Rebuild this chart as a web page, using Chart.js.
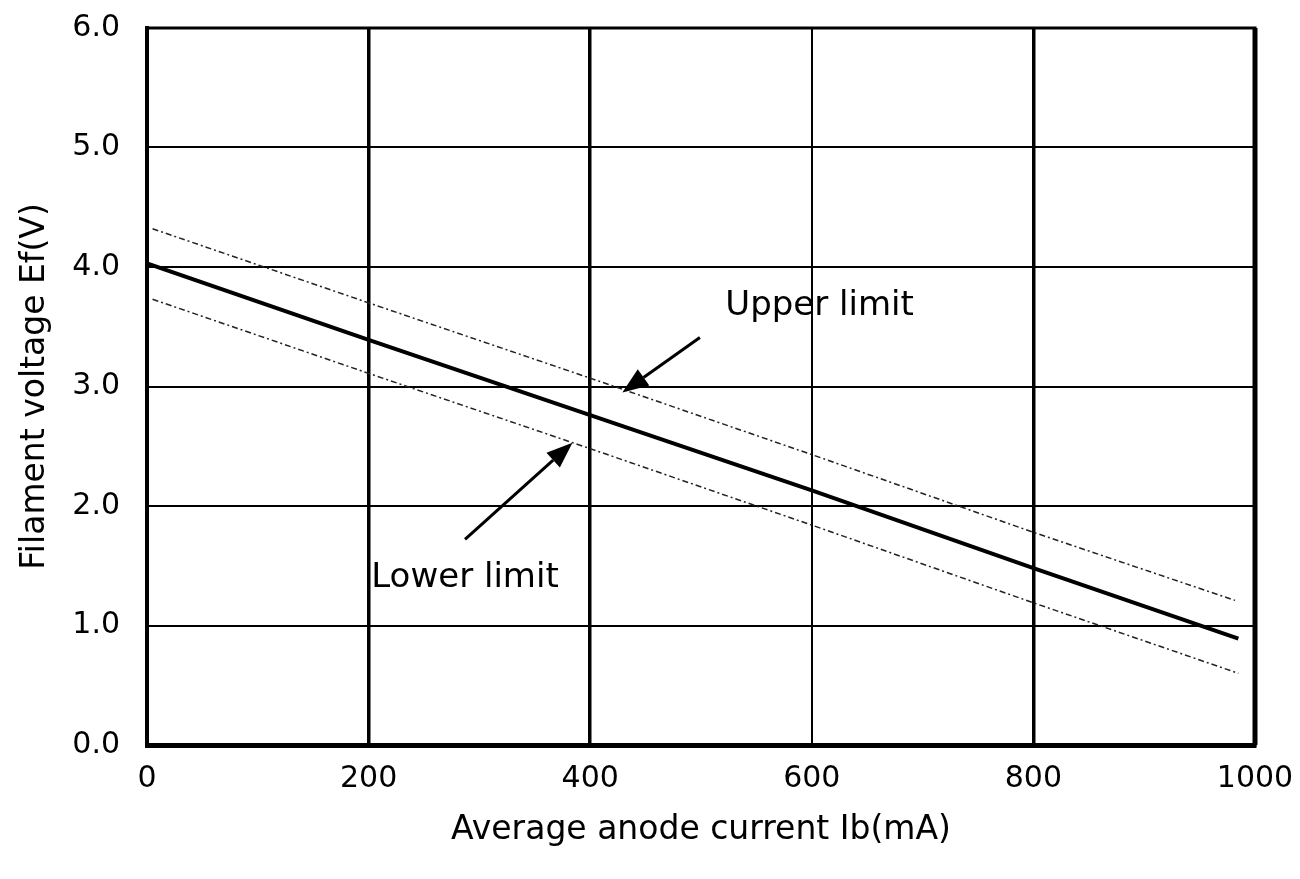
<!DOCTYPE html>
<html>
<head>
<meta charset="utf-8">
<script src="https://cdn.jsdelivr.net/npm/chart.js@4/dist/chart.umd.min.js"></script>
<style>
  html, body { margin: 0; padding: 0; background: #fff; overflow: hidden; }
  canvas { display: block; }
</style>
</head>
<body>
<canvas id="cnv" width="1300" height="879"></canvas>
<script>
// values (x = mA, y = V)
let currentMain = [0, 200, 400, 600, 800, 985]
let voltMain = [4.03, 3.39, 2.76, 2.13, 1.48, 0.89]
let currentUpper = [5, 200, 400, 600, 800, 982]
let voltUpper = [4.32, 3.70, 3.07, 2.43, 1.78, 1.21]
let currentLower = [5, 200, 400, 600, 800, 985]
let voltLower = [3.73, 3.11, 2.48, 1.84, 1.19, 0.60]

let xTicks = [0, 200, 400, 600, 800, 1000]
let yTicks = [0, 1, 2, 3, 4, 5, 6]

// labels with arrows, in data units: [text, textX, textY, tailX, tailY, headX, headY]
let notes = [
  ['Upper limit', 607, 3.67, 499, 3.41, 429, 2.95],
  ['Lower limit', 287, 1.40, 287, 1.72, 384, 2.53],
]

const FONT = "'DejaVu Sans', sans-serif"

function toPts(xs, ys) {
  return xs.map((x, i) => ({ x: x, y: ys[i] }))
}

const frame = {
  id: 'frame',
  afterDraw(chart) {
    let { ctx, chartArea: a } = chart
    ctx.save()
    ctx.strokeStyle = '#000'
    ctx.lineWidth = 3
    ctx.strokeRect(a.left, a.top, a.right - a.left, a.bottom - a.top)
    // heavier right edge as in the print
    ctx.lineWidth = 5
    ctx.beginPath()
    ctx.moveTo(a.right, a.top)
    ctx.lineTo(a.right, a.bottom)
    ctx.stroke()
    ctx.restore()
  }
}

const notesPlugin = {
  id: 'notes',
  afterDatasetsDraw(chart) {
    let { ctx, scales: { x, y } } = chart
    ctx.save()
    notes.forEach((n) => {
      ctx.fillStyle = '#000'
      ctx.font = '34px ' + FONT
      ctx.textAlign = 'center'
      ctx.textBaseline = 'middle'
      ctx.fillText(n[0], x.getPixelForValue(n[1]), y.getPixelForValue(n[2]))

      let x1 = x.getPixelForValue(n[3]), y1 = y.getPixelForValue(n[4])
      let x2 = x.getPixelForValue(n[5]), y2 = y.getPixelForValue(n[6])
      let ang = Math.atan2(y2 - y1, x2 - x1)
      let len = 26, w = 10
      let bx = x2 - len * Math.cos(ang), by = y2 - len * Math.sin(ang)
      ctx.strokeStyle = '#000'
      ctx.lineWidth = 3
      ctx.beginPath()
      ctx.moveTo(x1, y1)
      ctx.lineTo(bx, by)
      ctx.stroke()
      ctx.beginPath()
      ctx.moveTo(x2, y2)
      ctx.lineTo(bx + w * Math.sin(ang), by - w * Math.cos(ang))
      ctx.lineTo(bx - w * Math.sin(ang), by + w * Math.cos(ang))
      ctx.closePath()
      ctx.fill()
    })
    ctx.restore()
  }
}

let ctx = document.getElementById('cnv').getContext('2d')
let chart = new Chart(ctx, {
  type: 'scatter',
  data: {
    datasets: [
      {
        label: 'Ef',
        data: toPts(currentMain, voltMain),
        showLine: true,
        borderColor: '#000',
        borderWidth: 4,
        pointRadius: 0,
      },
      {
        label: 'Upper limit',
        data: toPts(currentUpper, voltUpper),
        showLine: true,
        borderColor: '#222',
        borderWidth: 1.5,
        borderDash: [6, 3, 2, 3],
        pointRadius: 0,
      },
      {
        label: 'Lower limit',
        data: toPts(currentLower, voltLower),
        showLine: true,
        borderColor: '#222',
        borderWidth: 1.5,
        borderDash: [6, 3, 2, 3],
        pointRadius: 0,
      },
    ],
  },
  options: {
    responsive: false,
    animation: false,
    layout: { padding: { top: 28, right: 45, left: 0, bottom: 0 } },
    plugins: { legend: { display: false }, tooltip: { enabled: false } },
    scales: {
      x: {
        type: 'linear',
        min: 0,
        max: 1000,
        afterBuildTicks: (s) => { s.ticks = xTicks.map((v) => ({ value: v })) },
        afterFit: (s) => { s.height = 134 },
        grid: {
          color: '#000',
          lineWidth: (c) => (c.tick && c.tick.value === 600 ? 2 : 3.5),
          drawTicks: true,
          tickLength: 10,
          tickColor: 'rgba(0,0,0,0)',
        },
        border: { color: '#000', width: 5 },
        ticks: {
          color: '#000',
          padding: 6,
          font: { family: FONT, size: 30 },
          callback: (v) => String(v),
        },
        title: {
          display: true,
          text: 'Average anode current Ib(mA)',
          color: '#000',
          font: { family: FONT, size: 33 },
          padding: { top: 0, bottom: 29 },
        },
      },
      y: {
        type: 'linear',
        min: 0,
        max: 6,
        afterBuildTicks: (s) => { s.ticks = yTicks.map((v) => ({ value: v })) },
        afterFit: (s) => { s.width = 147 },
        grid: {
          color: '#000',
          lineWidth: 2,
          drawTicks: true,
          tickLength: 20,
          tickColor: 'rgba(0,0,0,0)',
        },
        border: { color: '#000', width: 4 },
        ticks: {
          color: '#000',
          padding: 7,
          font: { family: FONT, size: 30 },
          callback: (v) => v.toFixed(1),
        },
        title: {
          display: true,
          text: 'Filament voltage Ef(V)',
          color: '#000',
          font: { family: FONT, size: 33 },
          padding: { top: 16, bottom: 0 },
        },
      },
    },
  },
  plugins: [frame, notesPlugin],
})
</script>
</body>
</html>
